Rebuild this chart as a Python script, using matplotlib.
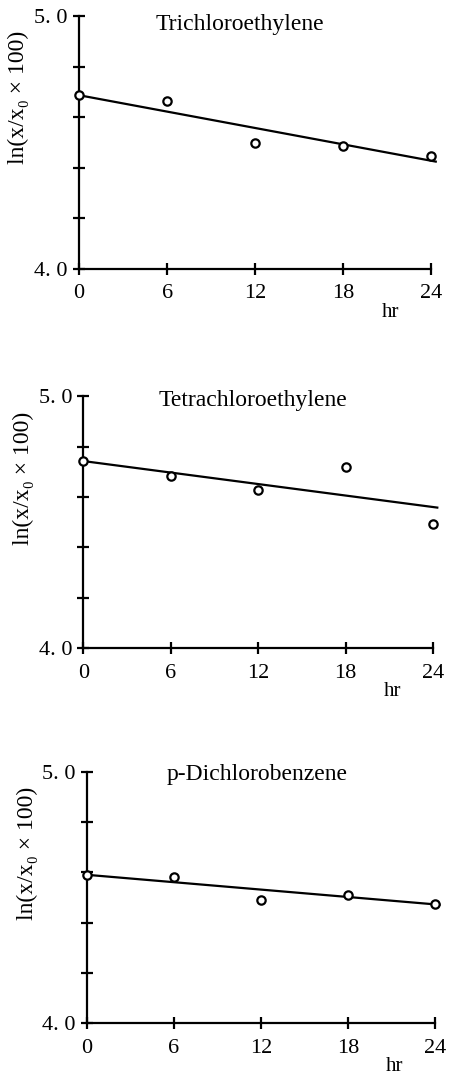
import numpy as np
import matplotlib
matplotlib.use("Agg")
import matplotlib.pyplot as plt

plt.rcParams['font.family'] = ['Liberation Serif', 'DejaVu Serif']

# sampling times (hr)
hours = [0, 6, 12, 18, 24]

names = ["Trichloroethylene", "Tetrachloroethylene", "p-Dichlorobenzene"]

# measured ln(x/x0*100)
tce = [4.687, 4.664, 4.498, 4.486, 4.445]
pce = [4.743, 4.683, 4.628, 4.718, 4.492]
pdcb = [4.588, 4.583, 4.490, 4.511, 4.473]

# regression lines: intercept, slope
fit_a = [4.687, 4.743, 4.590]
fit_b = [-0.0108, -0.0076, -0.0049]

series = [tce, pce, pdcb]

# axes boxes [left, bottom, width, height]
boxes = [
    [0.1756, 0.750, 0.796, 0.2351],
    [0.185, 0.3975, 0.790, 0.2342],
    [0.1927, 0.049, 0.787, 0.2339],
]
title_x = [0.45, 0.478, 0.481]
title_y = [0.968, 0.984, 0.987]

fig = plt.figure(figsize=(4.5, 10.76), dpi=100)

for i in range(3):
    ax = fig.add_axes(boxes[i])
    ax.set_xlim(0, 24.4)
    ax.set_ylim(4.0, 5.0)
    ax.spines['top'].set_visible(False)
    ax.spines['right'].set_visible(False)
    ax.spines['left'].set_linewidth(1.6)
    ax.spines['bottom'].set_linewidth(1.6)
    ax.spines['left'].set_bounds(4.0, 5.0)
    ax.spines['bottom'].set_bounds(0, 24)

    ax.set_xticks(hours)
    ax.set_xticklabels([str(h) for h in hours])
    ax.set_yticks([4.0, 4.2, 4.4, 4.6, 4.8, 5.0])
    ax.set_yticklabels(["4. 0", "", "", "", "", "5. 0"])
    ax.tick_params(direction='inout', length=8, width=1.6, labelsize=16)
    ax.tick_params(axis='x', pad=7)
    ax.tick_params(axis='y', pad=4)

    xx = np.array([0, 24.3])
    ax.plot(xx, fit_a[i] + fit_b[i] * xx, color='black', lw=1.6, clip_on=False)
    ax.plot(hours, series[i], 'o', mfc='white', mec='black', ms=6, mew=1.6,
            clip_on=False, zorder=5)

    ax.text(title_x[i], title_y[i], names[i], transform=ax.transAxes,
            ha='center', va='center', fontsize=17)
    ax.text(-0.168, 0.94, "ln(x/x₀ × 100)", transform=ax.transAxes,
            rotation=90, ha='center', va='top', fontsize=17)
    ax.text(0.87, -0.17, "hr", transform=ax.transAxes, ha='center',
            va='center', fontsize=15)

fig.savefig("out.png", dpi=100)
